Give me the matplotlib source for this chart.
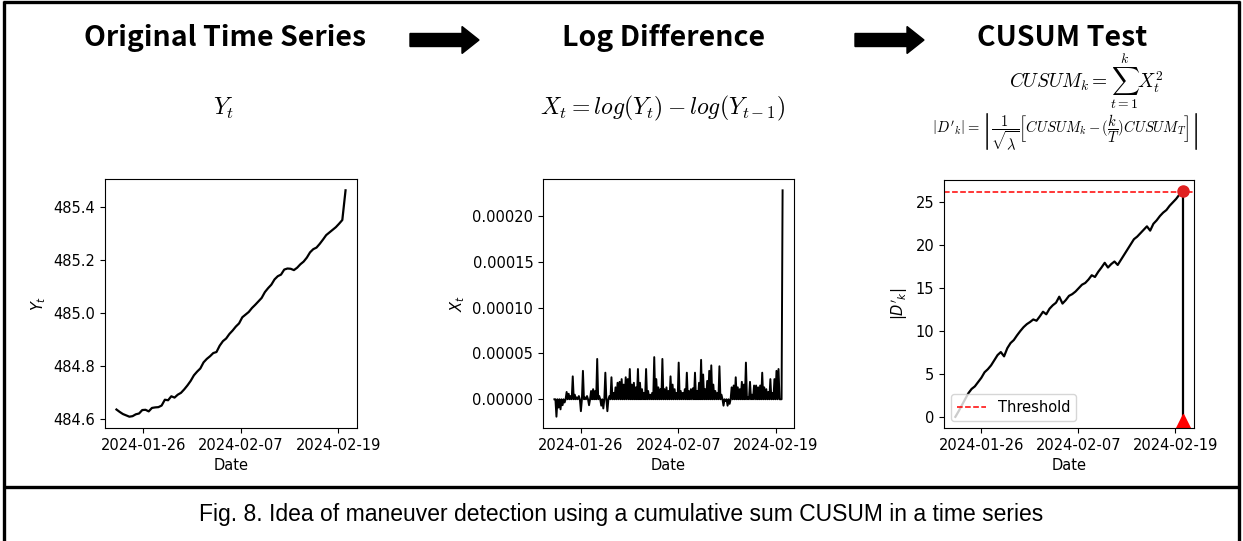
import numpy as np
import pandas as pd
import matplotlib
matplotlib.use("Agg")
import matplotlib.pyplot as plt
import matplotlib.dates as mdates
from matplotlib.patches import FancyArrow

plt.rcParams["font.family"] = ["DejaVu Sans"]
plt.rcParams["mathtext.fontset"] = "dejavusans"

# orbit series (Y_t), sampled evenly between these two epochs
yt_start, yt_end = "2024-01-22 17:00", "2024-02-19 21:30"
yt = [484.637, 484.628, 484.620, 484.615, 484.610, 484.612, 484.619, 484.622,
      484.635, 484.636, 484.630, 484.643, 484.645, 484.646, 484.652, 484.674,
      484.672, 484.687, 484.682, 484.693, 484.700, 484.713, 484.728, 484.745,
      484.766, 484.780, 484.792, 484.815, 484.828, 484.838, 484.850, 484.854,
      484.878, 484.895, 484.905, 484.922, 484.935, 484.950, 484.962, 484.985,
      484.995, 485.005, 485.020, 485.032, 485.045, 485.058, 485.080, 485.095,
      485.108, 485.128, 485.140, 485.146, 485.165, 485.169, 485.168, 485.163,
      485.172, 485.185, 485.195, 485.210, 485.230, 485.242, 485.248, 485.262,
      485.278, 485.295, 485.305, 485.315, 485.325, 485.338, 485.352, 485.464]

# log difference X_t, in units of 1e-5
xt_start, xt_end = "2024-01-22 19:00", "2024-02-19 19:40"
xt_e5 = [0.0, 0, -1.9, 0, -0.9, 0, -1.1, 0, -0.65, 0, -0.35, 0, 0.8, 0, 0.6, 0,
         0.35, 0, 2.5, 0, 0.5, 0, 0.2, 0, 0.35, 0, -1.3, 0, 3.1, 0, 0.2, 0,
         0.35, 0, -0.65, 0, 0.9, 0, 1.1, 0, 0.9, 0, 4.4, 0, 0.35, 0, -0.7, 0,
         -1.0, 0, 2.9, 0, -1.3, 0, 0.35, 0, 2.4, 0, 0.7, 0, 1.3, 0, 1.8, 0,
         1.9, 0, 2.2, 0, 1.6, 0, 2.4, 0, 2.2, 0, 3.3, 0, 1.6, 0, 1.8, 0,
         1.3, 0, 3.3, 0, 1.8, 0, 1.1, 0, 0.7, 0, 3.3, 0, 0.9, 0, 0.5, 0,
         0.7, 0, 4.6, 0, 2.2, 0, 1.3, 0, 1.1, 0, 4.4, 0, 1.1, 0, 1.3, 0,
         0.9, 0, 2.5, 0, 1.6, 0, 1.1, 0, 0.7, 0, 4.0, 0, 0.9, 0, 0.7, 0,
         1.1, 0, 2.9, 0, 0.9, 0, 1.1, 0, 1.2, 0, 2.9, 0, 0.9, 0, 1.8, 0,
         4.3, 0, 2.7, 0, 1.1, 0, 2.0, 0, 3.1, 0, 3.7, 0, 1.6, 0, 0.9, 0,
         0.7, 0, 3.6, 0, 0.5, 0, -0.7, 0, -0.2, 0, -0.7, 0, -0.5, 0, 1.3, 0,
         1.5, 0, 2.4, 0, 1.3, 0, 1.1, 0, 1.9, 0, 1.6, 0, 4.0, 0, 0.2, 0,
         1.9, 0, 0.5, 0, 1.5, 0, 1.5, 0, 1.3, 0, 1.5, 0, 2.9, 0, 1.3, 0,
         1.1, 0, 0.8, 0, 2.2, 0, 0.7, 0, 2.2, 0, 3.1, 0, 3.3, 0, 0.0, 0,
         22.8]

# CUSUM statistic |D'_k|
dk_start, dk_end = "2024-01-22 18:30", "2024-02-19 21:20"
dk = [0.00, 0.65, 1.35, 2.05, 2.75, 3.25, 3.55, 4.05, 4.55, 5.20,
      5.55, 6.00, 6.60, 7.20, 7.55, 7.05, 8.00, 8.60, 8.95, 9.50,
      10.00, 10.45, 10.80, 11.05, 11.35, 11.20, 11.70, 12.25, 11.95, 12.60,
      13.00, 13.30, 14.00, 13.20, 13.60, 14.10, 14.30, 14.60, 15.00, 15.40,
      15.60, 16.00, 16.50, 16.30, 16.90, 17.40, 17.95, 17.40, 17.80, 18.10,
      17.70, 18.30, 18.90, 19.50, 20.10, 20.70, 21.00, 21.40, 21.80, 22.20,
      21.70, 22.50, 22.90, 23.40, 23.80, 24.10, 24.60, 25.00, 25.40, 25.90,
      26.30]
threshold = 26.2

tick_dates = ["2024-01-26", "2024-02-07", "2024-02-19"]
titles = ["Original Time Series", "Log Difference", "CUSUM Test"]
caption = "Fig. 8. Idea of maneuver detection using a cumulative sum CUSUM in a time series"

t_y = pd.date_range(yt_start, yt_end, periods=len(yt))
t_x = pd.date_range(xt_start, xt_end, periods=len(xt_e5))
t_d = pd.date_range(dk_start, dk_end, periods=len(dk))
xt = np.array(xt_e5) * 1e-5

fig = plt.figure(figsize=(12.43, 5.41), dpi=100)

# pixel-space canvas for frame, headings and formulas
bg = fig.add_axes([0, 0, 1, 1])
bg.set_xlim(0, 1243)
bg.set_ylim(541, 0)
bg.axis("off")
frame = dict(color="black", lw=2.4, solid_capstyle="butt")
bg.plot([3, 1240], [2, 2], **frame)
bg.plot([4, 4], [1, 541], **frame)
bg.plot([1239, 1239], [1, 541], **frame)
bg.plot([3, 1240], [487, 487], **frame)

title_font = dict(ha="center", va="center", fontsize=20.5, fontweight="bold",
                  family=["Noto Sans CJK KR", "DejaVu Sans"])
for x, s in zip([225, 664, 1062], titles):
    bg.text(x, 38, s, **title_font)

for x0 in [410, 855]:
    bg.add_patch(FancyArrow(x0, 40, 69, 0, width=13, head_width=27, head_length=17,
                            length_includes_head=True, color="black"))

eq = dict(ha="center", va="center", math_fontfamily="cm")
bg.text(224, 108, r"$Y_t$", fontsize=17, **eq)
bg.text(663, 108, r"$X_t = log(Y_t) - log(Y_{t-1})$", fontsize=17, **eq)
bg.text(1086, 81, r"$CUSUM_k = \sum_{t=1}^{k} X_t^2$", fontsize=14, **eq)
bg.text(1065, 132,
        r"$\left|D'_k\right| = \left|\dfrac{1}{\sqrt{\lambda}}\left[CUSUM_k - (\dfrac{k}{T})CUSUM_T\right]\right|$",
        fontsize=10.5, **eq)

bg.text(621, 514, caption, ha="center", va="center", fontsize=16.5,
        family="Liberation Sans")

W, H = 1243, 541


def panel(left, right, top, bottom):
    return fig.add_axes([left / W, 1 - bottom / H, (right - left) / W, (bottom - top) / H])


def date_axis(ax):
    ax.set_xticks(pd.to_datetime(tick_dates))
    ax.xaxis.set_major_formatter(mdates.DateFormatter("%Y-%m-%d"))
    ax.set_xlabel("Date", fontsize=10.5)
    ax.tick_params(labelsize=10.5)


ax1 = panel(105, 357, 179, 428)
ax1.plot(t_y, yt, color="black", lw=1.6)
ax1.set_ylabel(r"$Y_t$", fontsize=10.5)
date_axis(ax1)

ax2 = panel(543, 794, 179, 428)
ax2.plot(t_x, xt, color="black", lw=1.4)
ax2.set_ylabel(r"$X_t$", fontsize=10.5)
date_axis(ax2)

ax3 = panel(944, 1194, 180, 428)
ax3.plot(t_d, dk, color="black", lw=1.6)
ax3.axhline(threshold, color="red", ls="--", lw=1.1, label="Threshold")
k = int(np.argmax(dk))
ax3.set_ylim(-1.3, 27.6)
ax3.vlines(t_d[k], -1.3, dk[k], color="black", lw=1.6)
ax3.plot(t_d[k], dk[k], "o", color="#e02020", ms=8)
ax3.plot(t_d[k], -0.8, "^", color="red", ms=14, clip_on=True)
ax3.set_ylabel(r"$|D'_k|$", fontsize=10.5)
date_axis(ax3)
ax3.legend(loc="lower left", fontsize=10.5)

fig.savefig("out.png", dpi=100)
